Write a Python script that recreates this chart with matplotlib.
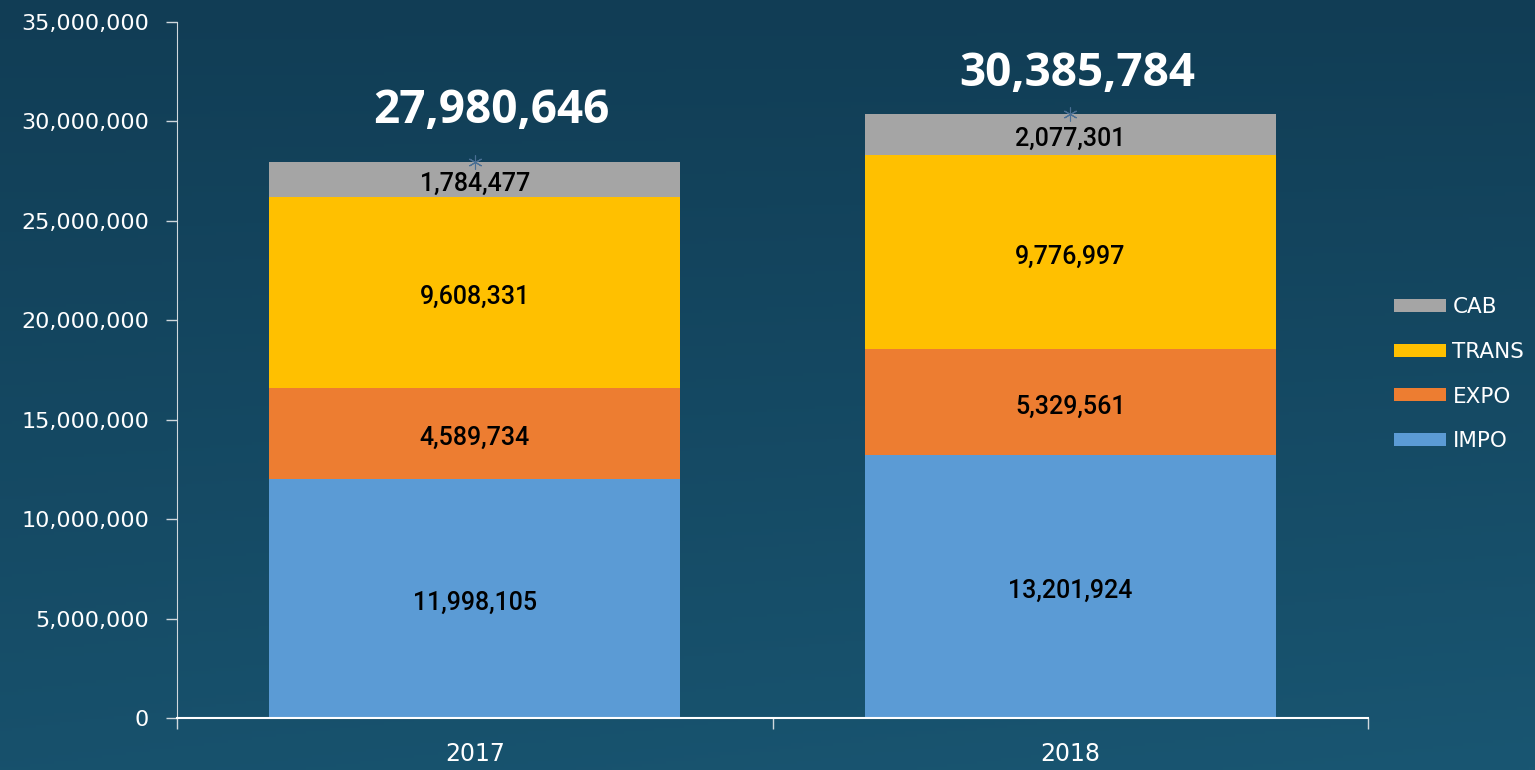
import numpy as np
import matplotlib
matplotlib.use("Agg")
import matplotlib.pyplot as plt
from matplotlib.ticker import FuncFormatter, FixedLocator

years = ["2017", "2018"]
impo = [11998105, 13201924]
expo = [4589734, 5329561]
trans = [9608331, 9776997]
cab = [1784477, 2077301]
totals = [27980646, 30385784]

series = [("IMPO", impo, "#5B9BD5"), ("EXPO", expo, "#ED7D31"),
          ("TRANS", trans, "#FFC000"), ("CAB", cab, "#A5A5A5")]

plt.rcParams['font.family'] = ['DejaVu Sans']

fig = plt.figure(figsize=(15.35, 7.7), dpi=100)

# background gradient, darker at the top
bg = fig.add_axes([0, 0, 1, 1], zorder=-10)
grad = np.linspace(0, 1, 256).reshape(-1, 1)
xg = np.linspace(0, 1, 256).reshape(1, -1)
g = grad * 0.8 + xg * 0.2 * grad
top = np.array([0x11, 0x3d, 0x55]) / 255
bot = np.array([0x19, 0x56, 0x72]) / 255
img = top[None, None, :] * (1 - g[..., None]) + bot[None, None, :] * g[..., None]
bg.imshow(img, aspect='auto', extent=[0, 1, 0, 1], origin='upper')
bg.axis('off')

ax = fig.add_axes([0.1153, 0.0675, 0.776, 0.904])
ax.set_facecolor('none')

x = np.arange(len(years))
bottom = np.zeros(len(years))
handles = []
for name, vals, col in series:
    vals = np.array(vals, dtype=float)
    b = ax.bar(x, vals, 0.69, bottom=bottom, color=col, label=name, zorder=2)
    handles.append(b)
    for xi, v, bt in zip(x, vals, bottom):
        ax.annotate(f"{int(v):,}", (xi, bt + v / 2), xytext=(0, -3),
                    textcoords='offset points', ha='center', va='center',
                    fontsize=18, color='black', family=['Roboto', 'DejaVu Sans'],
                    fontweight='medium', zorder=3)
    bottom += vals

ax.plot(x, totals, linestyle='none', marker=(6, 2, 0), markersize=10,
        color='#4a6f94', markeredgewidth=0.8, zorder=4)
# total labels sit a bit off-centre like in the source
offs = [(12, 37), (5, 29)]
for xi, t, o in zip(x, totals, offs):
    ax.annotate(f"{t:,}", (xi, t), xytext=o, textcoords='offset points',
                ha='center', va='center', fontsize=33, fontweight='bold',
                family=['Open Sans', 'DejaVu Sans'], color='white')

ax.set_xlim(-0.5, 1.5)
ax.set_ylim(0, 35000000)
ax.yaxis.set_major_locator(FixedLocator(np.arange(0, 35000001, 5000000)))
ax.yaxis.set_major_formatter(FuncFormatter(lambda v, p: f"{int(v):,}"))
ax.xaxis.set_major_locator(FixedLocator([-0.5, 0.5, 1.5]))
ax.xaxis.set_major_formatter(FuncFormatter(lambda v, p: ""))
ax.xaxis.set_minor_locator(FixedLocator(x))
ax.set_xticklabels(years, minor=True)
ax.tick_params(axis='x', which='minor', length=0, labelsize=17,
               labelcolor='white', pad=17)
ax.tick_params(axis='x', which='major', length=8, color='#d0d8dd', width=1)
ax.tick_params(axis='y', length=8, color='#d0d8dd', width=1, labelsize=16,
               labelcolor='white', pad=12)

for s in ['top', 'right']:
    ax.spines[s].set_visible(False)
ax.spines['left'].set_color('#d0d8dd')
ax.spines['bottom'].set_color('white')
ax.spines['bottom'].set_linewidth(1.5)

leg = ax.legend(handles[::-1], [s[0] for s in series][::-1],
                loc='center left', bbox_to_anchor=(1.022, 0.494), frameon=False,
                fontsize=15.5, labelcolor='white', handlelength=2.4,
                handleheight=0.55, labelspacing=1.15, handletextpad=0.3,
                borderaxespad=0, borderpad=0)

fig.savefig("out.png", dpi=100)
